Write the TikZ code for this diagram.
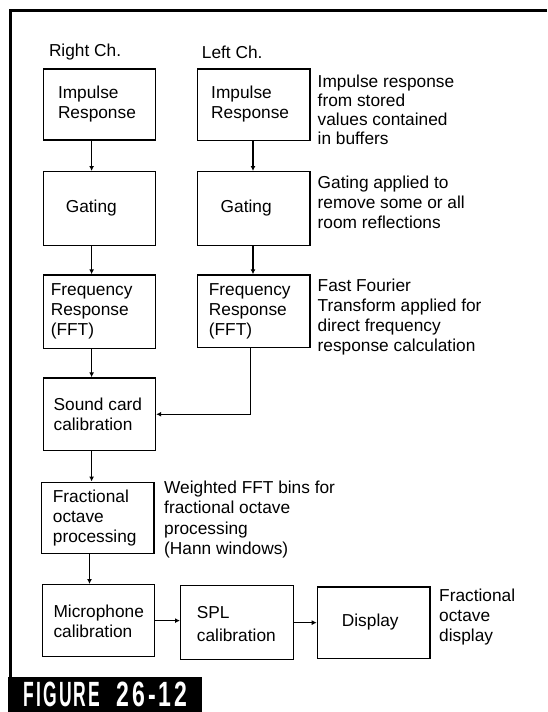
\documentclass[tikz,border=0pt]{standalone}
\usepackage{fontspec}
\setmainfont{Liberation Sans}
\usetikzlibrary{arrows.meta}
\begin{document}
\begin{tikzpicture}[x=1pt,y=-1pt,
  box/.style={draw, line width=1.2pt, anchor=north west, inner sep=0pt},
  txt/.style={anchor=west, align=left, inner sep=0pt, font=\fontsize{17.3}{20}\selectfont},
  arr/.style={line width=1.1pt, -{Latex[length=5pt,width=5pt]}}]
\useasboundingbox (0,0) rectangle (547,712);
% frame
\coordinate (fr1) at (547,10);
\coordinate (fr2) at (10,10);
\coordinate (fr3) at (10,678);
\draw[line width=3pt] (fr1) -- (fr2) -- (fr3);
% figure label
\node[fill=black, anchor=north west, minimum width=193.5pt, minimum height=35.3pt, inner sep=0pt] (lab) at (8.2,676.7) {};
\node[anchor=base west, inner sep=0pt, text=white] (labA) at (23.3,706)
  {\resizebox{76.7pt}{24.5pt}{\addfontfeature{LetterSpace=12}\bfseries FIGURE}};
\node[anchor=base west, inner sep=0pt, text=white] (labB) at (116.7,706)
  {\resizebox{70pt}{24.5pt}{\addfontfeature{LetterSpace=12}\bfseries 26-12}};
% boxes
\node[box, minimum width=112.4pt, minimum height=71pt]   (ri)  at (42.6,68.3) {};
\node[box, minimum width=112.4pt, minimum height=71.5pt] (li)  at (197,68.3) {};
\node[box, minimum width=112.4pt, minimum height=74pt]   (rg)  at (42.6,171) {};
\node[box, minimum width=112.4pt, minimum height=74pt]   (lg)  at (197,171) {};
\node[box, minimum width=112.4pt, minimum height=73.4pt] (rf)  at (42.6,274.3) {};
\node[box, minimum width=112.4pt, minimum height=72.5pt] (lf)  at (197,274.3) {};
\node[box, minimum width=112.4pt, minimum height=72.7pt] (sc)  at (42.6,377.3) {};
\node[box, minimum width=112.4pt, minimum height=71pt]   (fo)  at (41,481.5) {};
\node[box, minimum width=112pt,   minimum height=72pt]   (mc)  at (42,584) {};
\node[box, minimum width=112.7pt, minimum height=74pt]   (spl) at (180,585) {};
\node[box, minimum width=112.6pt, minimum height=71.5pt] (dsp) at (316.7,586.3) {};
% box texts
\node[txt] (tri)  at (57.8,104)  {Impulse\\Response};
\node[txt] (tli)  at (211,104)   {Impulse\\Response};
\node[txt] (trg)  at (65.6,208)  {Gating};
\node[txt] (tlg)  at (220.5,208) {Gating};
\node[txt] (trf)  at (50.6,311)  {Frequency\\Response\\(FFT)};
\node[txt] (tlf)  at (208.7,311) {Frequency\\Response\\(FFT)};
\node[txt] (tsc)  at (53.4,414)  {Sound card\\calibration};
\node[txt] (tfo)  at (52.7,518.5) {Fractional\\octave\\processing};
\node[txt] (tmc)  at (53.3,621)  {Microphone\\calibration};
\node[txt, font=\fontsize{17.3}{22.5}\selectfont] (tspl) at (196.7,624) {SPL\\calibration};
\node[txt] (tdsp) at (341.7,622) {Display};
% headings and notes
\node[txt] (hR) at (48.8,52) {Right Ch.};
\node[txt] (hL) at (201.7,52) {Left Ch.};
\node[txt, font=\fontsize{17.3}{19}\selectfont] (n1) at (317.5,110) {Impulse response\\from stored\\values contained\\in buffers};
\node[txt] (n2) at (317.5,202.5) {Gating applied to\\remove some or all\\room reflections};
\node[txt, font=\fontsize{17.3}{19.7}\selectfont] (n3) at (317.5,317) {Fast Fourier\\Transform applied for\\direct frequency\\response calculation};
\node[txt, font=\fontsize{17.3}{20.3}\selectfont] (n4) at (164,519.5) {Weighted FFT bins for\\fractional octave\\processing\\(Hann windows)};
\node[txt] (n5) at (439,617.5) {Fractional\\octave\\display};
% connectors
\coordinate (cr) at (91.6,0);
\coordinate (cf) at (89.5,0);
\coordinate (cl) at (253,0);
\coordinate (cl2) at (250.5,0);
\draw[arr] (ri.south -| cr) -- (rg.north -| cr);
\draw[arr] (rg.south -| cr) -- (rf.north -| cr);
\draw[arr] (rf.south -| cr) -- (sc.north -| cr);
\draw[arr] (sc.south -| cr) -- (fo.north -| cr);
\draw[arr] (fo.south -| cf) -- (mc.north -| cf);
\draw[arr] (li.south -| cl) -- (lg.north -| cl);
\draw[arr] (lg.south -| cl) -- (lf.north -| cl);
\draw[arr] (lf.south -| cl2) |- (sc.east);
\draw[arr] (mc.east) -- (mc.east -| spl.west);
\draw[arr] (spl.east |- dsp.west) -- (dsp.west);
\end{tikzpicture}
\end{document}
